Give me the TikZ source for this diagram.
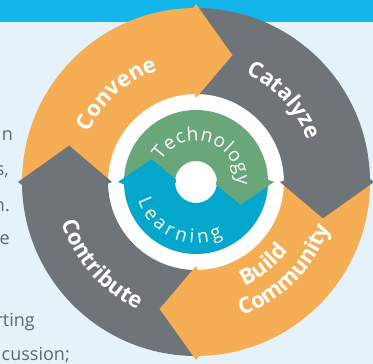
\documentclass[tikz,border=0pt]{standalone}
\usepackage{fontspec}
\setmainfont{Open Sans}
\usetikzlibrary{decorations.text}
\definecolor{bgblue}{HTML}{E6F2FA}
\definecolor{barblue}{HTML}{14B5EA}
\definecolor{segorange}{HTML}{F6AE55}
\definecolor{seggray}{HTML}{6E7477}
\definecolor{techgreen}{HTML}{69A77B}
\definecolor{learnblue}{HTML}{05A6CC}
\definecolor{bodytext}{HTML}{5D6770}
\tikzset{
  sidetext/.style={text=bodytext, font=\fontsize{18}{18}\selectfont, inner sep=0pt, anchor=base east},
}
% outer ring segment: #1 colour, #2 start angle (runs 90 deg clockwise)
\newcommand\outerbody[2]{%
  \pgfmathsetmacro\te{#2-90}%
  \fill[#1] (#2:174pt) arc[start angle=#2, end angle=\te, radius=174pt]
    -- (\te-16:132pt) -- (\te:88pt)
    arc[start angle=\te, end angle=#2, radius=88pt]
    -- (#2-16:132pt) -- cycle;}
\newcommand\outerhead[2]{%
  \pgfmathsetmacro\te{#2-90}%
  \fill[#1] (\te:178pt) -- (\te-16:132pt) -- (\te:84pt)
    -- (\te+1:88pt) -- (\te+1:174pt) -- cycle;}
% inner ring segment: #1 colour, #2 start angle (runs 180 deg clockwise)
\newcommand\innerbody[2]{%
  \pgfmathsetmacro\te{#2-180}%
  \fill[#1] (#2:72pt) arc[start angle=#2, end angle=\te, radius=72pt]
    -- (\te-27:50pt) -- (\te:21pt)
    arc[start angle=\te, end angle=#2, radius=21pt]
    -- (#2-27:50pt) -- cycle;}
\newcommand\innerhead[2]{%
  \pgfmathsetmacro\te{#2-180}%
  \fill[#1] (\te:78pt) -- (\te-27:50pt) -- (\te:17pt)
    -- (\te+2:21pt) -- (\te+2:72pt) -- cycle;}
\newcommand\outerfont{\fontsize{22}{22}\selectfont\bfseries}
\newcommand\innerfont{\fontsize{19}{19}\selectfont}
\begin{document}
\begin{tikzpicture}[x=1pt,y=1pt]
\useasboundingbox (0,0) rectangle (373,364);
\clip (0,0) rectangle (373,364);
\fill[bgblue] (0,0) rectangle (373,364);
\fill[barblue] (0,342) rectangle (373,364);

% side text fragments
\node[sidetext] (t1) at (13,223) {n};
\node[sidetext] (t2) at (9,188) {s,};
\node[sidetext] (t3) at (10,152) {n.};
\node[sidetext] (t4) at (10,119) {e};
\node[sidetext] (t5) at (35,37) {rting};
\node[sidetext] (t6) at (70,3) {cussion;};

\begin{scope}[shift={(196,182)}]
  \fill[white] (0,0) circle[radius=90pt];
  % outer cycle
  \outerbody{segorange}{180}
  \outerbody{seggray}{90}
  \outerbody{segorange}{0}
  \outerbody{seggray}{-90}
  \outerhead{segorange}{180}
  \outerhead{seggray}{90}
  \outerhead{segorange}{0}
  \outerhead{seggray}{-90}
  % inner cycle
  \innerbody{techgreen}{180}
  \innerbody{learnblue}{0}
  \innerhead{techgreen}{180}
  \innerhead{learnblue}{0}
  \fill[white] (0,0) circle[radius=20pt];

  % labels
  \path[decorate, decoration={text along path, text color=white,
      text={|\outerfont|Convene}, text align=center}]
    (177:118pt) arc[start angle=177, end angle=87, radius=118pt];
  \path[decorate, decoration={text along path, text color=white,
      text={|\outerfont|Catalyze}, text align=center}]
    (88:119pt) arc[start angle=88, end angle=-2, radius=119pt];
  \path[decorate, decoration={text along path, text color=white,
      text={|\outerfont|Build}, text align=center}]
    (264:115pt) arc[start angle=264, end angle=354, radius=115pt];
  \path[decorate, decoration={text along path, text color=white,
      text={|\outerfont|Community}, text align=center}]
    (270:141pt) arc[start angle=270, end angle=360, radius=141pt];
  \path[decorate, decoration={text along path, text color=white,
      text={|\outerfont|Contribute}, text align=center}]
    (176:140pt) arc[start angle=176, end angle=266, radius=140pt];
  \path[decorate, decoration={text along path, text color=white,
      text={|\innerfont|Technology}, text align={fit to path}}]
    (148:41pt) arc[start angle=148, end angle=-4, radius=41pt];
  \path[decorate, decoration={text along path, text color=white,
      text={|\innerfont|Learning}, text align={fit to path}}]
    (198:61pt) arc[start angle=198, end angle=296, radius=61pt];
\end{scope}
\end{tikzpicture}
\end{document}
